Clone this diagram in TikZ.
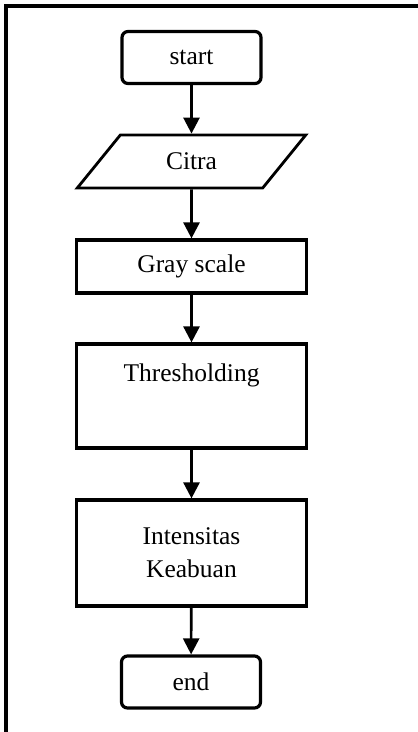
\documentclass[tikz,border=0pt]{standalone}
\usepackage{fontspec}
\setmainfont{Liberation Serif}
\usetikzlibrary{arrows.meta,shapes.geometric}

\begin{document}
\begin{tikzpicture}[
    x=1pt, y=-1pt,
    term/.style={rectangle, draw=black, line width=3.2pt, rounded corners=6pt, minimum width=139pt, minimum height=52pt, inner sep=0pt, font=\fontsize{25.5}{32}\selectfont},
    proc/.style={rectangle, draw=black, line width=3.2pt, minimum width=230pt, minimum height=53pt, inner sep=0pt, align=center, font=\fontsize{25.5}{33}\selectfont},
    io/.style={trapezium, trapezium left angle=48, trapezium right angle=132, trapezium stretches=true, draw=black, line width=2.8pt, minimum width=229pt, minimum height=53pt, inner sep=0pt, font=\fontsize{25.5}{32}\selectfont},
    arr/.style={-{Triangle[width=16pt,length=16pt]}, line width=2.6pt}
]
\useasboundingbox (0,0) rectangle (418,732);
% frame of the scan
\draw[line width=3.4pt] (418,6) -- (6,6) -- (6,732);

\node[term] (start) at (191.5,57.5) {start};
\node[io] (citra) at (191.5,161.5) {Citra};
\node[proc] (gray) at (191.5,266.5) {Gray scale};
\node[proc, minimum height=104pt, text height=37pt, text depth=67pt] (thresh) at (191.5,396) {Thresholding};
\node[proc, minimum height=106pt] (intens) at (191.5,553) {Intensitas\\Keabuan};
\node[term] (end) at (191,682) {end};

\draw[arr] (start) -- (citra);
\draw[arr] (citra) -- (gray);
\draw[arr] (gray) -- (thresh);
\draw[arr] (thresh) -- (intens);
\draw[arr] (intens) -- (end);
\end{tikzpicture}
\end{document}
